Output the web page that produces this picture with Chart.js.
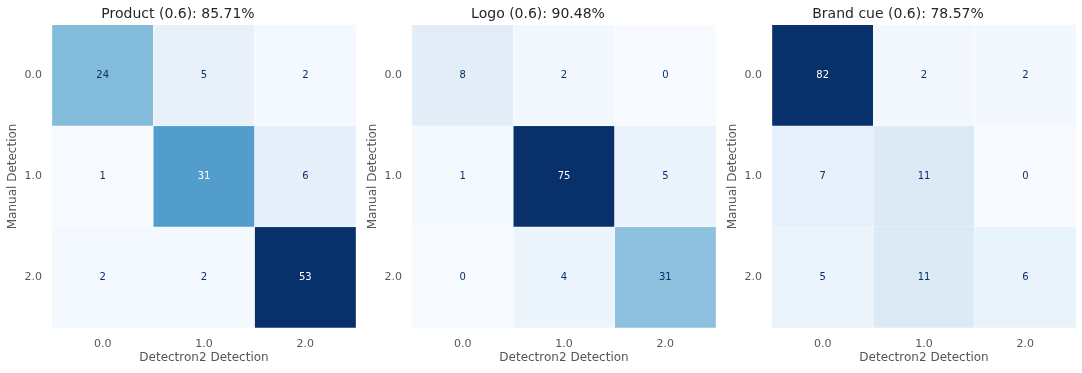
<!DOCTYPE html>
<html>
<head>
<meta charset="utf-8">
<script src="https://cdn.jsdelivr.net/npm/chart.js@4.4.1/dist/chart.umd.min.js"></script>
<style>
  html, body { margin: 0; padding: 0; background: #ffffff; }
  #wrap { position: relative; width: 1082px; height: 373px; }
  canvas { position: absolute; top: 0; }
</style>
</head>
<body>
<div id="wrap">
  <canvas id="c0" width="360" height="373" style="left:0px"></canvas>
  <canvas id="c1" width="360" height="373" style="left:360px"></canvas>
  <canvas id="c2" width="362" height="373" style="left:720px"></canvas>
</div>
<script>
// ---- data ----
const categories = ['0.0', '1.0', '2.0'];
const titles = ['Product (0.6): 85.71%', 'Logo (0.6): 90.48%', 'Brand cue (0.6): 78.57%'];
const productMatrix = [[24, 5, 2], [1, 31, 6], [2, 2, 53]];
const logoMatrix = [[8, 2, 0], [1, 75, 5], [0, 4, 31]];
const brandCueMatrix = [[82, 2, 2], [7, 11, 0], [5, 11, 6]];
const xAxisTitle = 'Detectron2 Detection';
const yAxisTitle = 'Manual Detection';

// ---- Blues colormap ----
const bluesStops = ['#f7fbff', '#deebf7', '#c6dbef', '#9ecae1', '#6baed6', '#4292c6', '#2171b5', '#08519c', '#08306b'];
function hexToRgb(h) { return [parseInt(h.slice(1, 3), 16), parseInt(h.slice(3, 5), 16), parseInt(h.slice(5, 7), 16)]; }
function blues(t) {
  t = Math.max(0, Math.min(1, t));
  const n = bluesStops.length - 1;
  const p = t * n;
  const i = Math.min(n - 1, Math.floor(p));
  const f = p - i;
  const a = hexToRgb(bluesStops[i]), b = hexToRgb(bluesStops[i + 1]);
  return a.map((v, k) => Math.round(v + (b[k] - v) * f));
}
function luminance(rgb) {
  const lin = rgb.map(v => { v /= 255; return v <= 0.03928 ? v / 12.92 : Math.pow((v + 0.055) / 1.055, 2.4); });
  return 0.2126 * lin[0] + 0.7152 * lin[1] + 0.0722 * lin[2];
}

const cellTextPlugin = {
  id: 'cellText',
  afterDatasetsDraw(chart) {
    const m = chart.options.plugins.cellText.matrix;
    const xs = chart.scales.x, ys = chart.scales.y;
    const ctx = chart.ctx;
    ctx.save();
    ctx.font = '10px "DejaVu Sans"';
    ctx.textAlign = 'center';
    ctx.textBaseline = 'middle';
    const flat = m.flat();
    const mn = Math.min(...flat), mx = Math.max(...flat);
    m.forEach((row, r) => row.forEach((v, c) => {
      const rgb = blues((v - mn) / (mx - mn));
      ctx.fillStyle = luminance(rgb) < 0.408 ? '#ffffff' : '#08306b';
      ctx.fillText(String(v), xs.getPixelForValue(c), ys.getPixelForValue(r));
    }));
    ctx.restore();
  }
};

function makeChart(id, matrix, title, rightPad) {
  const flat = matrix.flat();
  const mn = Math.min(...flat), mx = Math.max(...flat);
  const datasets = matrix.map((row, r) => ({
    data: row.map(() => [r - 0.5, r + 0.5]),
    backgroundColor: row.map(v => { const c = blues((v - mn) / (mx - mn)); return `rgb(${c[0]},${c[1]},${c[2]})`; }),
    borderColor: '#ffffff',
    borderWidth: 0.5,
    borderSkipped: false,
    barPercentage: 1,
    categoryPercentage: 1,
    grouped: false
  }));
  new Chart(document.getElementById(id), {
    type: 'bar',
    data: { labels: categories, datasets },
    plugins: [cellTextPlugin],
    options: {
      responsive: false,
      animation: false,
      events: [],
      layout: { padding: { left: 0, right: rightPad, top: 0, bottom: 0 } },
      plugins: {
        legend: { display: false },
        tooltip: { enabled: false },
        title: {
          display: true, text: title, color: '#262626',
          font: { family: 'DejaVu Sans', size: 14, weight: 'normal' },
          padding: { top: 6, bottom: 2 }
        },
        cellText: { matrix }
      },
      scales: {
        x: {
          type: 'category',
          grid: { display: false, drawTicks: false },
          border: { display: false },
          ticks: { color: '#555555', font: { family: 'DejaVu Sans', size: 11 }, padding: 10 },
          title: { display: true, text: xAxisTitle, color: '#555555', font: { family: 'DejaVu Sans', size: 12 }, padding: { top: 0, bottom: 8 } },
          afterFit(s) { s.height = 45; }
        },
        y: {
          type: 'linear',
          min: -0.5, max: 2.5,
          reverse: true,
          grid: { display: false, drawTicks: false },
          border: { display: false },
          afterBuildTicks(s) { s.ticks = categories.map((_, i) => ({ value: i })); },
          ticks: { color: '#555555', font: { family: 'DejaVu Sans', size: 11 }, padding: 10,
                   callback: (v) => categories[v] },
          title: { display: true, text: yAxisTitle, color: '#555555', font: { family: 'DejaVu Sans', size: 12 }, padding: { top: 6, bottom: 0 } },
          afterFit(s) { s.width = 52; }
        }
      }
    }
  });
}

makeChart('c0', productMatrix, titles[0], 4);
makeChart('c1', logoMatrix, titles[1], 4);
makeChart('c2', brandCueMatrix, titles[2], 6);
</script>
</body>
</html>
